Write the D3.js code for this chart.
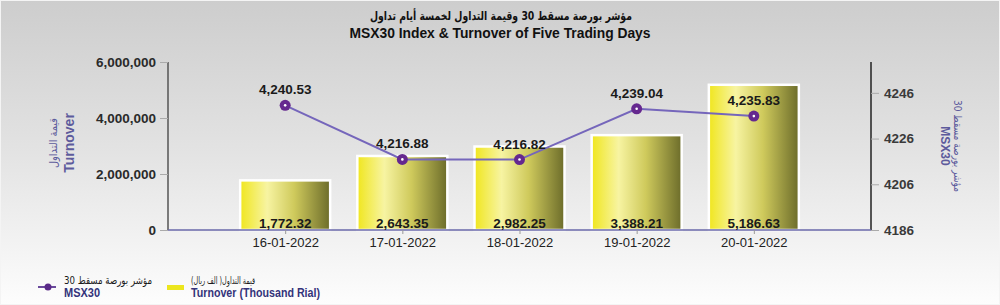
<!DOCTYPE html>
<html>
<head>
<meta charset="utf-8">
<script src="https://cdn.jsdelivr.net/npm/d3@7.9.0/dist/d3.min.js"></script>
<style>
  body { margin: 0; background: #fff; }
  svg { display: block; }
  .lat { font-family: "Liberation Sans", Arial, sans-serif; }
  .ar { font-family: "DejaVu Sans", sans-serif; }
</style>
</head>
<body>
<svg id="chart" width="1000" height="305"></svg>
<script>
// data
const dates = ["16-01-2022", "17-01-2022", "18-01-2022", "19-01-2022", "20-01-2022"];
const turnover = [1772.32, 2643.35, 2982.25, 3388.21, 5186.63]; // thousand rial
const msx30 = [4240.53, 4216.88, 4216.82, 4239.04, 4235.83];
const leftTicks = [0, 2000000, 4000000, 6000000];
const rightTicks = [4186, 4206, 4226, 4246];

const svg = d3.select("#chart");
const W = 1000, H = 305;
const plotL = 168, plotR = 871, plotT = 62, plotB = 230;

// background gradient
const defs = svg.append("defs");
const bg = defs.append("linearGradient").attr("id", "bg")
    .attr("x1", 0).attr("y1", 0).attr("x2", 0).attr("y2", 1);
bg.append("stop").attr("offset", "0%").attr("stop-color", "#cdcdcd");
bg.append("stop").attr("offset", "50%").attr("stop-color", "#e3e3e3");
bg.append("stop").attr("offset", "100%").attr("stop-color", "#fdfdfd");

const barGrad = defs.append("linearGradient").attr("id", "barGrad")
    .attr("x1", 0).attr("y1", 0).attr("x2", 1).attr("y2", 0);
barGrad.append("stop").attr("offset", "0%").attr("stop-color", "#f0e61e");
barGrad.append("stop").attr("offset", "30%").attr("stop-color", "#f7f4a2");
barGrad.append("stop").attr("offset", "60%").attr("stop-color", "#cfca5c");
barGrad.append("stop").attr("offset", "100%").attr("stop-color", "#6c6c2a");

svg.append("rect").attr("width", W).attr("height", H).attr("fill", "url(#bg)");
svg.append("rect").attr("x", 0.5).attr("y", 0.5).attr("width", W - 1).attr("height", H - 1)
    .attr("fill", "none").attr("stroke", "#f4f4f4").attr("stroke-width", 1);

// scales
const x = d3.scalePoint().domain(dates).range([plotL, plotR]).padding(1);
const yL = d3.scaleLinear().domain([0, 6000000]).range([plotB, plotT]);
const yR = d3.scaleLinear().domain([4186, 4259.5]).range([plotB, plotT]);
const barW = 90;

// arabic text squeezed to the width seen in the picture
function arText(g, txt, size, len) {
    return g.append("text").attr("class", "ar")
        .attr("direction", "rtl").attr("text-anchor", "middle")
        .attr("font-size", size)
        .attr("textLength", len).attr("lengthAdjust", "spacingAndGlyphs")
        .text(txt);
}

// titles
arText(svg, "مؤشر بورصة مسقط 30 وقيمة التداول لخمسة أيام تداول", 12, 262)
    .attr("x", 501).attr("y", 20).attr("font-weight", "bold").attr("fill", "#111");
svg.append("text").attr("class", "lat").attr("x", 500).attr("y", 38)
    .attr("text-anchor", "middle")
    .attr("font-size", 14).attr("font-weight", "bold").attr("fill", "#111")
    .attr("textLength", 301).attr("lengthAdjust", "spacingAndGlyphs")
    .text("MSX30 Index & Turnover of Five Trading Days");

// bars
svg.append("g").selectAll("rect").data(turnover).join("rect")
    .attr("x", (d, i) => x(dates[i]) - barW / 2)
    .attr("y", d => yL(d * 1000))
    .attr("width", barW)
    .attr("height", d => plotB - yL(d * 1000))
    .attr("fill", "url(#barGrad)")
    .attr("stroke", "#ffffff").attr("stroke-width", 2.5);

// left axis
const gL = svg.append("g").attr("transform", `translate(${plotL},0)`)
    .call(d3.axisLeft(yL).tickValues(leftTicks).tickSize(8).tickPadding(4).tickFormat(d3.format(",")));
gL.select(".domain").attr("stroke", "#555").attr("stroke-width", 1.5).attr("d", `M0,${plotT}V${plotB}`);
gL.selectAll(".tick line").attr("stroke", "#aaa");
gL.selectAll(".tick text").attr("class", "lat").attr("font-size", 13.5)
    .attr("font-weight", "bold").attr("fill", "#2a2a2a");

// right axis
const gR = svg.append("g").attr("transform", `translate(${plotR},0)`)
    .call(d3.axisRight(yR).tickValues(rightTicks).tickSize(8).tickPadding(5).tickFormat(d3.format("d")));
gR.select(".domain").attr("stroke", "#222").attr("stroke-width", 1.5).attr("d", `M0,${plotT}V${plotB}`);
gR.selectAll(".tick line").attr("stroke", "#aaa");
gR.selectAll(".tick text").attr("class", "lat").attr("font-size", 13.5)
    .attr("font-weight", "bold").attr("fill", "#3a3a3a");

// x axis
const gX = svg.append("g").attr("transform", `translate(0,${plotB})`)
    .call(d3.axisBottom(x).tickSize(4).tickPadding(4));
gX.select(".domain").attr("stroke", "#6a68aa").attr("stroke-width", 1.5).attr("d", `M${plotL},0H${plotR}`);
gX.selectAll(".tick line").attr("stroke", "#999");
gX.selectAll(".tick text").attr("class", "lat").attr("font-size", 13)
    .attr("fill", "#222");

// bar labels
svg.append("g").selectAll("text").data(turnover).join("text")
    .attr("class", "lat")
    .attr("x", (d, i) => x(dates[i]))
    .attr("y", plotB - 2.5)
    .attr("text-anchor", "middle")
    .attr("font-size", 13.5).attr("font-weight", "bold").attr("fill", "#1a1a1a")
    .text(d => d3.format(",.2f")(d));

// line
const line = d3.line().x((d, i) => x(dates[i])).y(d => yR(d));
svg.append("path").datum(msx30).attr("d", line)
    .attr("fill", "none").attr("stroke", "#7566bb").attr("stroke-width", 2);
svg.append("g").selectAll("circle").data(msx30).join("circle")
    .attr("cx", (d, i) => x(dates[i])).attr("cy", d => yR(d))
    .attr("r", 5.5).attr("fill", "#65288f");
svg.append("g").selectAll("circle").data(msx30).join("circle")
    .attr("cx", (d, i) => x(dates[i])).attr("cy", d => yR(d))
    .attr("r", 1.3).attr("fill", "#ffffff");
svg.append("g").selectAll("text").data(msx30).join("text")
    .attr("class", "lat")
    .attr("x", (d, i) => x(dates[i]))
    .attr("y", d => yR(d) - 11)
    .attr("text-anchor", "middle")
    .attr("font-size", 13.5).attr("font-weight", "bold").attr("fill", "#1a1a1a")
    .text(d => d3.format(",.2f")(d));

// axis titles
const ytl = svg.append("g").attr("transform", "translate(0,143) rotate(-90)");
arText(ytl, "قيمة التداول", 11, 50).attr("x", 0).attr("y", 57).attr("fill", "#5d5b9c");
ytl.append("text").attr("class", "lat").attr("x", 0).attr("y", 74)
    .attr("text-anchor", "middle")
    .attr("font-size", 14).attr("font-weight", "bold").attr("fill", "#5d5b9c").text("Turnover");

const ytr = svg.append("g").attr("transform", "translate(0,146) rotate(90)");
arText(ytr, "مؤشر بورصة مسقط 30", 11, 92).attr("x", 0).attr("y", -954).attr("fill", "#5d5b9c");
ytr.append("text").attr("class", "lat").attr("x", 0).attr("y", -941)
    .attr("text-anchor", "middle")
    .attr("font-size", 12).attr("font-weight", "bold").attr("fill", "#5d5b9c").text("MSX30");

// legend
const lg = svg.append("g");
lg.append("line").attr("x1", 38).attr("x2", 56).attr("y1", 287).attr("y2", 287)
    .attr("stroke", "#6a4a9c").attr("stroke-width", 2);
lg.append("circle").attr("cx", 48).attr("cy", 287).attr("r", 3.5).attr("fill", "#5a2a88");
lg.append("rect").attr("x", 167).attr("y", 285).attr("width", 17).attr("height", 5).attr("fill", "#ece61e");

function legendText(x0, ar, arSize, arLen, en, enLen) {
    arText(lg, ar, arSize, arLen).attr("x", x0 + arLen / 2).attr("y", 284).attr("fill", "#1a1a1a");
    lg.append("text").attr("class", "lat").attr("x", x0).attr("y", 297)
        .attr("font-size", 12.5).attr("font-weight", "bold").attr("fill", "#33337a")
        .attr("textLength", enLen).attr("lengthAdjust", "spacingAndGlyphs").text(en);
}
legendText(64, "مؤشر بورصة مسقط 30", 10.5, 88, "MSX30", 36);
legendText(191, "قيمة التداول( الف ريال)", 10, 64, "Turnover (Thousand Rial)", 129);
</script>
</body>
</html>
